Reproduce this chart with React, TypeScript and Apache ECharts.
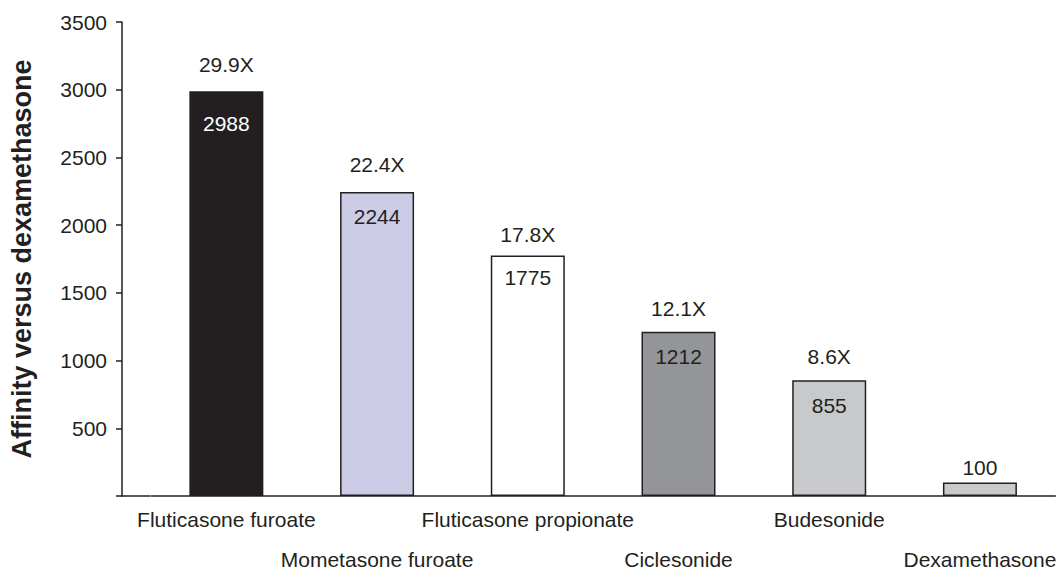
import React, { useEffect, useRef } from "react";
import * as echarts from "echarts";

const categories = [
  "Fluticasone furoate",
  "Mometasone furoate",
  "Fluticasone propionate",
  "Ciclesonide",
  "Budesonide",
  "Dexamethasone",
];
const affinity = [2988, 2244, 1775, 1212, 855, 100];
const insideLabels = ["2988", "2244", "1775", "1212", "855", ""];
const topLabels = ["29.9X", "22.4X", "17.8X", "12.1X", "8.6X", "100"];
const yTicks = [0, 500, 1000, 1500, 2000, 2500, 3000, 3500];

const barColors = ["#231f20", "#cdcce6", "#ffffff", "#939598", "#c8c9cb", "#c8c9cb"];
const insideTextColors = ["#ffffff", "#231f20", "#231f20", "#231f20", "#231f20", "#231f20"];
const insideDist = [22, 14, 11, 14, 15, 0];
const topDist = [16, 17, 11, 13, 13, 4];

const FONT = "'Liberation Sans', Arial, Helvetica, sans-serif";
const INK = "#231f20";

export default function App() {
  const ref = useRef<HTMLDivElement>(null);
  useEffect(() => {
    if (!ref.current) return;
    const chart = echarts.init(ref.current, null, { renderer: "svg" });
    const gridLeft = 150;
    const gridBottom = 76;
    chart.setOption({
      animation: false,
      backgroundColor: "#ffffff",
      textStyle: { fontFamily: FONT },
      grid: { left: gridLeft, right: 0, top: 22, bottom: gridBottom },
      xAxis: {
        type: "category",
        data: categories,
        axisLine: { show: true, onZero: false, lineStyle: { color: INK, width: 1.5 } },
        axisTick: { show: false },
        axisLabel: {
          interval: 0,
          margin: 13,
          color: INK,
          fontSize: 21,
          fontFamily: FONT,
          formatter: (v: string, i: number) => (i % 2 === 1 ? "{b|" + v + "}" : "{a|" + v + "}"),
          rich: {
            a: { fontSize: 21, fontFamily: FONT, color: INK },
            b: { fontSize: 21, fontFamily: FONT, color: INK, padding: [40, 0, 0, 0] },
          },
        },
        z: 5,
      },
      yAxis: {
        type: "value",
        min: yTicks[0],
        max: yTicks[yTicks.length - 1],
        interval: 500,
        offset: gridLeft - 121,
        name: "Affinity versus dexamethasone",
        nameLocation: "middle",
        nameRotate: 90,
        nameGap: 87,
        nameTextStyle: { fontSize: 27, fontWeight: "bold", color: INK, fontFamily: FONT },
        axisLine: { show: true, lineStyle: { color: INK, width: 1.5 } },
        axisTick: { show: true, length: 6, lineStyle: { color: INK, width: 1.5 } },
        splitLine: { show: false },
        axisLabel: {
          margin: 15,
          color: INK,
          fontSize: 21,
          fontFamily: FONT,
          formatter: (v: number) => (v === 0 ? "" : String(v)),
        },
      },
      series: [
        {
          type: "bar",
          barWidth: 74,
          data: affinity.map((v, i) => ({
            value: v,
            itemStyle: { color: barColors[i], borderColor: INK, borderWidth: 1.5 },
            label: {
              show: insideLabels[i] !== "",
              position: "insideTop",
              distance: insideDist[i],
              formatter: () => insideLabels[i],
              color: insideTextColors[i],
              fontSize: 21,
              fontFamily: FONT,
            },
          })),
          z: 2,
        },
        {
          type: "bar",
          barWidth: 74,
          barGap: "-100%",
          silent: true,
          data: affinity.map((v, i) => ({
            value: v,
            itemStyle: { color: "rgba(0,0,0,0)", borderWidth: 0 },
            label: {
              show: true,
              position: "top",
              distance: topDist[i],
              formatter: () => topLabels[i],
              color: INK,
              fontSize: 21,
              fontFamily: FONT,
            },
          })),
          z: 3,
        },
      ],
      graphic: [
        {
          type: "line",
          shape: { x1: 121, y1: 572 - gridBottom, x2: gridLeft, y2: 572 - gridBottom },
          style: { stroke: INK, lineWidth: 1.5 },
        },
      ],
    });
    return () => chart.dispose();
  }, []);
  return (
    <div
      ref={ref}
      style={{ position: "fixed", left: 0, top: 0, width: 1059, height: 572, background: "#fff" }}
    />
  );
}
